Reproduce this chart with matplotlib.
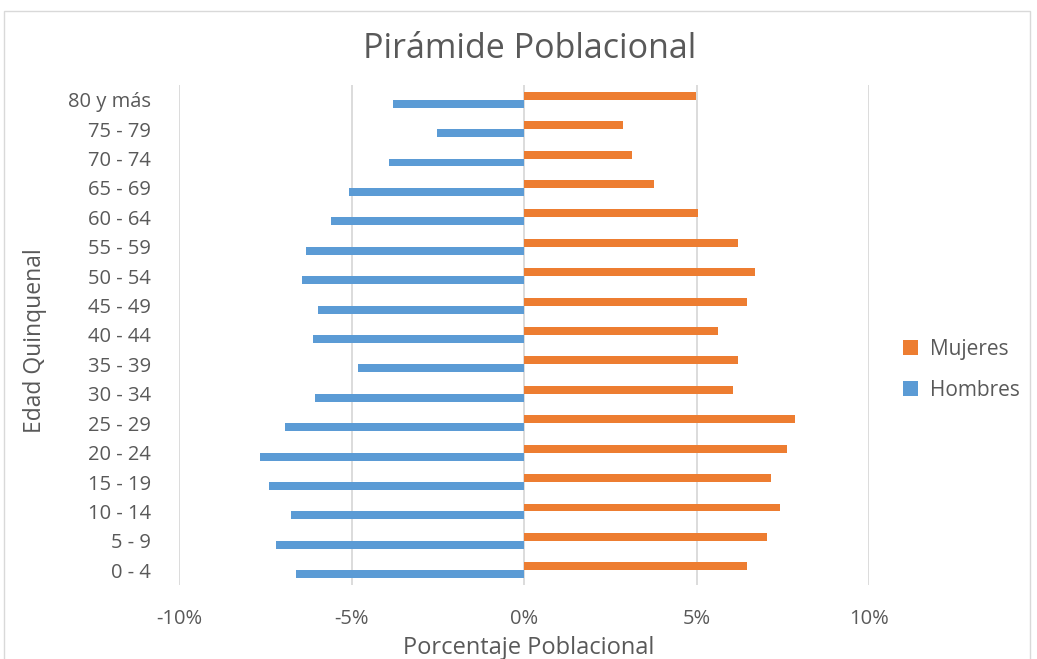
import matplotlib
matplotlib.use("Agg")
import matplotlib.pyplot as plt
from matplotlib.patches import Rectangle
import numpy as np

plt.rcParams['font.family'] = ['Open Sans', 'DejaVu Sans']

categorias = ["0 - 4", "5 - 9", "10 - 14", "15 - 19", "20 - 24", "25 - 29", "30 - 34",
              "35 - 39", "40 - 44", "45 - 49", "50 - 54", "55 - 59", "60 - 64",
              "65 - 69", "70 - 74", "75 - 79", "80 y más"]
mujeres = [6.45, 7.03, 7.41, 7.15, 7.61, 7.86, 6.06, 6.20, 5.62, 6.45, 6.71, 6.20,
           5.04, 3.76, 3.12, 2.86, 4.98]
hombres = [-6.62, -7.19, -6.75, -7.39, -7.64, -6.93, -6.05, -4.82, -6.11, -5.98,
           -6.43, -6.31, -5.59, -5.08, -3.92, -2.52, -3.80]
xticks = [-10, -5, 0, 5, 10]
xticklabels = ["-10%", "-5%", "0%", "5%", "10%"]

col_m = "#ED7D31"
col_h = "#5B9BD5"
txt = "#595959"
grid = "#D9D9D9"

W, H = 1037, 659
fig = plt.figure(figsize=(W / 100, H / 100), dpi=100)
fig.patches.append(Rectangle((4 / W, -0.01), 1026 / W, 1 - 11 / H + 0.01,
                             transform=fig.transFigure, fill=False,
                             edgecolor="#D9D9D9", linewidth=1))

ax = fig.add_axes([179 / W, 1 - 585 / H, 690 / W, 500 / H])
y = np.arange(len(categorias))
bh = 0.27
ax.barh(y, mujeres, height=bh, align='edge', color=col_m, label="Mujeres", zorder=3)
ax.barh(y - bh, hombres, height=bh, align='edge', color=col_h, label="Hombres", zorder=3)

ax.set_xlim(-10, 10)
ax.set_ylim(-0.5, len(categorias) - 0.5)
ax.set_xticks(xticks)
ax.set_xticklabels(xticklabels)
ax.set_yticks(y)
ax.set_yticklabels(categorias)
ax.tick_params(axis='both', length=0, colors=txt, labelsize=14.5)
ax.tick_params(axis='x', pad=17)
ax.tick_params(axis='y', pad=20)
ax.grid(axis='x', color=grid, linewidth=1.3, zorder=0)
ax.set_axisbelow(True)
for s in ax.spines.values():
    s.set_visible(False)

fig.text(530 / W, 1 - 49 / H, "Pirámide Poblacional", ha='center', va='center',
         fontsize=24.5, color=txt)
fig.text(529 / W, 1 - 648 / H, "Porcentaje Poblacional", ha='center', va='center',
         fontsize=17, color=txt)
fig.text(35 / W, 1 - 341 / H, "Edad Quinquenal", ha='center', va='center',
         rotation=90, fontsize=16.5, color=txt)

handles, labels = ax.get_legend_handles_labels()
leg = fig.legend(handles, labels, loc='center left',
                 bbox_to_anchor=(884 / W, 1 - 370 / H), frameon=False,
                 handlelength=0.75, handleheight=0.75, handletextpad=0.55,
                 labelspacing=0.95, fontsize=15)
for t in leg.get_texts():
    t.set_color(txt)

fig.savefig("out.png", dpi=100)
